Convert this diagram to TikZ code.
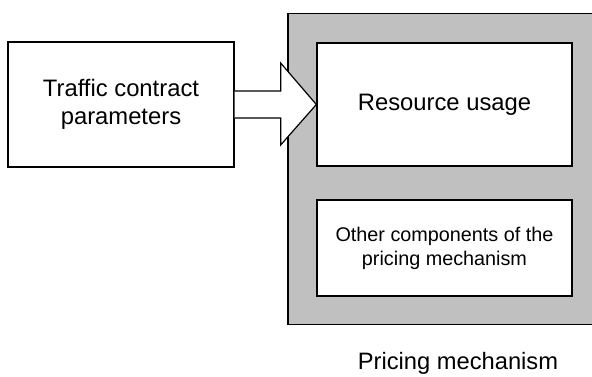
\documentclass[tikz,border=0pt]{standalone}
\usepackage{fontspec}
\setmainfont{Liberation Sans}
\usetikzlibrary{calc}
\definecolor{panelgray}{HTML}{C0C0C0}
\tikzset{
  box/.style={draw=black, line width=1.3pt, fill=white, inner sep=0pt, align=center},
  panel/.style={draw=black, line width=1.3pt, fill=panelgray},
  bigtext/.style={font=\fontsize{23.8}{28}\selectfont},
  smalltext/.style={font=\fontsize{19.8}{24}\selectfont},
  labeltext/.style={font=\fontsize{23.7}{28}\selectfont},
  blockarrow/.style={draw=black, line width=1.2pt, fill=white, line join=miter}
}
\begin{document}
\begin{tikzpicture}[x=1pt,y=-1pt]
\useasboundingbox (0,0) rectangle (592,376);
% gray panel
\path[panel] (288,13.5) rectangle (594,324.5);
\node[box, bigtext, minimum width=226, minimum height=125] (tcp) at (121,104.5) {Traffic contract\\parameters};
\node[box, bigtext, minimum width=255, minimum height=123] (ru) at (444.5,104.5) {Resource usage};
\node[box, smalltext, minimum width=255, minimum height=96] (oc) at (444.5,248) {Other components of the\\pricing mechanism};
\node[labeltext, anchor=base] (pm) at (458,369.5) {Pricing mechanism};
% block arrow from tcp to ru
\draw[blockarrow]
  ($(tcp.east)+(0,-13.5)$) -- ($(tcp.east)+(46,-13.5)$) -- ($(tcp.east)+(46,-41.5)$)
  -- (ru.west)
  -- ($(tcp.east)+(46,40.5)$) -- ($(tcp.east)+(46,13.5)$) -- ($(tcp.east)+(0,13.5)$);
\end{tikzpicture}
\end{document}
